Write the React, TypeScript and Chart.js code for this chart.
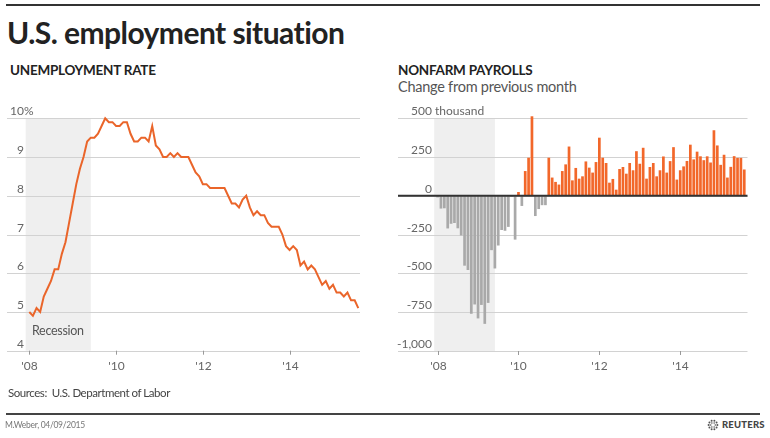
import React, { useEffect, useRef } from "react";
import { Chart, registerables } from "chart.js";

Chart.register(...registerables);

// ---- Data ----
// Month index 0 = Jan 2008, 91 = Aug 2015
const monthLabels: string[] = [];
for (let y = 2008; y <= 2015; y++) {
  for (let m = 1; m <= 12; m++) {
    if (y === 2015 && m > 8) break;
    monthLabels.push(`${y}-${String(m).padStart(2, "0")}`);
  }
}

const xTickLabels = ["'08", "'10", "'12", "'14"];
const xTickMonths = [0, 24, 48, 72];
const recessionMonths = [-1, 17]; // Dec 2007 .. Jun 2009

const unemploymentTicks = [4, 5, 6, 7, 8, 9, 10];
const payrollTicks = [-1000, -750, -500, -250, 0, 250, 500];

const unemployment = [
  5.0, 4.9, 5.1, 5.0, 5.4, 5.6, 5.8, 6.1, 6.1, 6.5, 6.8, 7.3,
  7.8, 8.3, 8.7, 9.0, 9.4, 9.5, 9.5, 9.6, 9.8, 10.0, 9.9, 9.9,
  9.8, 9.8, 9.9, 9.9, 9.6, 9.4, 9.4, 9.5, 9.5, 9.4, 9.8, 9.3,
  9.2, 9.0, 9.0, 9.1, 9.0, 9.1, 9.0, 9.0, 9.0, 8.8, 8.6, 8.5,
  8.3, 8.3, 8.2, 8.2, 8.2, 8.2, 8.2, 8.0, 7.8, 7.8, 7.7, 7.9,
  8.0, 7.7, 7.5, 7.6, 7.5, 7.5, 7.3, 7.2, 7.2, 7.2, 7.0, 6.7,
  6.6, 6.7, 6.6, 6.2, 6.3, 6.1, 6.2, 6.1, 5.9, 5.7, 5.8, 5.6,
  5.7, 5.5, 5.5, 5.4, 5.5, 5.3, 5.3, 5.1,
];

const payrolls = [
  -10, -82, -80, -210, -180, -175, -209, -255, -450, -478, -760, -700,
  -790, -703, -825, -690, -350, -468, -320, -220, -225, -200, -5, -282,
  25, -65, 160, 246, 513, -130, -85, -60, -60, 246, 118, 90,
  73, 160, 203, 318, 100, 180, 111, 126, 222, 182, 150, 218,
  375, 246, 212, 85, 109, 40, 173, 186, 143, 212, 165, 288,
  207, 310, 111, 186, 212, 126, 165, 254, 150, 224, 314, 105,
  165, 190, 225, 330, 235, 285, 255, 230, 255, 215, 423, 325,
  200, 265, 118, 187, 256, 245, 245, 170,
];

// ---- Styles ----
const FONT = "Lato, 'Open Sans', sans-serif";
const ORANGE = "#ea652a";
const BAR_ORANGE = "#f2672a";
const BAR_GRAY = "#a9a9a9";
const GRID = "#d2d2d2";
const SHADE = "#efefef";
const LABEL = "#666";

type AxisOpts = {
  ticks: number[];
  labelRight: number; // canvas x where numeric labels end
  topSuffix: string;
  format: (v: number) => string;
  zeroLine: boolean;
};

function makePlugin(o: AxisOpts) {
  return {
    id: "customAxes",
    beforeDatasetsDraw(chart: any) {
      const { ctx, chartArea: a, scales } = chart;
      const x = scales.x;
      const y = scales.y;
      ctx.save();
      const x0 = Math.max(x.getPixelForValue(recessionMonths[0]), a.left);
      const x1 = x.getPixelForValue(recessionMonths[1]);
      ctx.fillStyle = SHADE;
      ctx.fillRect(x0, a.top, x1 - x0, a.bottom - a.top);
      ctx.strokeStyle = GRID;
      ctx.lineWidth = 1;
      o.ticks.forEach((v) => {
        const py = Math.round(y.getPixelForValue(v)) + 0.5;
        ctx.beginPath();
        ctx.moveTo(a.left, py);
        ctx.lineTo(a.right, py);
        ctx.stroke();
      });
      ctx.restore();
    },
    afterDatasetsDraw(chart: any) {
      const { ctx, chartArea: a, scales } = chart;
      const x = scales.x;
      const y = scales.y;
      ctx.save();
      if (o.zeroLine) {
        const py = y.getPixelForValue(0);
        ctx.strokeStyle = "#333";
        ctx.lineWidth = 2;
        ctx.beginPath();
        ctx.moveTo(a.left, py);
        ctx.lineTo(a.right, py);
        ctx.stroke();
      }
      ctx.font = `12px ${FONT}`;
      ctx.fillStyle = LABEL;
      ctx.textBaseline = "alphabetic";
      const top = o.ticks[o.ticks.length - 1];
      o.ticks.forEach((v) => {
        const py = y.getPixelForValue(v) - 3;
        ctx.textAlign = "right";
        ctx.fillText(o.format(v), o.labelRight, py);
        if (v === top) {
          ctx.textAlign = "left";
          ctx.fillText(o.topSuffix, o.labelRight, py);
        }
      });
      ctx.strokeStyle = "#999";
      ctx.lineWidth = 1;
      ctx.textAlign = "center";
      ctx.textBaseline = "middle";
      xTickMonths.forEach((m, i) => {
        const px = Math.round(x.getPixelForValue(m)) + 0.5;
        ctx.beginPath();
        ctx.moveTo(px, a.bottom);
        ctx.lineTo(px, a.bottom + 4);
        ctx.stroke();
        ctx.fillText(xTickLabels[i], px, a.bottom + 15);
      });
      ctx.restore();
    },
  };
}

function UnemploymentChart() {
  const ref = useRef<HTMLCanvasElement>(null);
  useEffect(() => {
    if (!ref.current) return;
    const chart = new Chart(ref.current, {
      type: "line",
      data: {
        labels: monthLabels,
        datasets: [
          {
            data: unemployment.map((v, i) => ({ x: i, y: v })),
            borderColor: ORANGE,
            borderWidth: 2,
            pointRadius: 0,
            tension: 0,
            fill: false,
            clip: false,
          } as any,
        ],
      },
      options: {
        responsive: false,
        animation: false,
        devicePixelRatio: 1,
        layout: { padding: { left: 7, right: 20, top: 18.3, bottom: 29.3 } },
        plugins: { legend: { display: false }, tooltip: { enabled: false } },
        scales: {
          x: { type: "linear", display: false, min: -6.17, max: 91.47 },
          y: { type: "linear", display: false, min: 4, max: 10 },
        },
      },
      plugins: [
        makePlugin({
          ticks: unemploymentTicks,
          labelRight: 24,
          topSuffix: "%",
          format: (v) => String(v),
          zeroLine: false,
        }),
      ],
    });
    return () => chart.destroy();
  }, []);
  return (
    <canvas
      ref={ref}
      width={380}
      height={280}
      style={{ position: "absolute", left: 0, top: 100, width: 380, height: 280 }}
    />
  );
}

function PayrollChart() {
  const ref = useRef<HTMLCanvasElement>(null);
  useEffect(() => {
    if (!ref.current) return;
    const chart = new Chart(ref.current, {
      type: "bar",
      data: {
        labels: monthLabels,
        datasets: [
          {
            data: payrolls.map((v, i) => ({ x: i, y: v })),
            backgroundColor: payrolls.map((v) => (v >= 0 ? BAR_ORANGE : BAR_GRAY)),
            borderWidth: 0,
            categoryPercentage: 1,
            barPercentage: 0.8,
            clip: false,
          } as any,
        ],
      },
      options: {
        responsive: false,
        animation: false,
        devicePixelRatio: 1,
        layout: { padding: { left: 18, right: 22.5, top: 18.3, bottom: 29 } },
        plugins: { legend: { display: false }, tooltip: { enabled: false } },
        scales: {
          x: { type: "linear", display: false, min: -11.75, max: 91.96, offset: false },
          y: { type: "linear", display: false, min: -1000, max: 500 },
        },
      },
      plugins: [
        makePlugin({
          ticks: payrollTicks,
          labelRight: 52,
          topSuffix: " thousand",
          format: (v) => v.toLocaleString("en-US"),
          zeroLine: true,
        }),
      ],
    });
    return () => chart.destroy();
  }, []);
  return (
    <canvas
      ref={ref}
      width={390}
      height={280}
      style={{ position: "absolute", left: 380, top: 100, width: 390, height: 280 }}
    />
  );
}

function ReutersLogo() {
  const dots = [];
  for (let ring = 0; ring < 2; ring++) {
    const r = ring === 0 ? 4.4 : 2.3;
    const n = ring === 0 ? 10 : 6;
    for (let k = 0; k < n; k++) {
      const ang = (k / n) * Math.PI * 2;
      dots.push(
        <circle key={`${ring}-${k}`} cx={6 + r * Math.cos(ang)} cy={6 + r * Math.sin(ang)} r={ring === 0 ? 1 : 0.8} fill="#555" />
      );
    }
  }
  return (
    <div style={{ position: "absolute", left: 707, top: 418.5, display: "flex", alignItems: "center" }}>
      <svg width={12} height={12}>{dots}</svg>
      <span style={{ fontFamily: FONT, fontWeight: 900, fontSize: 9.5, color: "#444", marginLeft: 3, letterSpacing: 0.2 }}>
        REUTERS
      </span>
    </div>
  );
}

export default function App() {
  const abs = (s: React.CSSProperties): React.CSSProperties => ({
    position: "absolute",
    whiteSpace: "nowrap",
    lineHeight: 1,
    fontFamily: FONT,
    ...s,
  });
  return (
    <div style={{ position: "absolute", left: 0, top: 0, width: 770, height: 438, background: "#fff", overflow: "hidden" }}>
      <div style={{ position: "absolute", left: 6, top: 3.5, width: 754, height: 2.5, background: "#333" }} />
      <div style={abs({ left: 7, top: 16.5, fontSize: 30, fontWeight: 700, color: "#222", letterSpacing: -0.55 })}>
        U.S. employment situation
      </div>
      <div style={abs({ left: 10, top: 64, fontSize: 13.5, fontWeight: 700, color: "#222", letterSpacing: -0.25 })}>UNEMPLOYMENT RATE</div>
      <div style={abs({ left: 398, top: 64, fontSize: 13.5, fontWeight: 700, color: "#222", letterSpacing: -0.25 })}>NONFARM PAYROLLS</div>
      <div style={abs({ left: 398, top: 80, fontSize: 14.5, color: "#555", letterSpacing: -0.25 })}>Change from previous month</div>

      <UnemploymentChart />
      <PayrollChart />

      <div style={abs({ left: 32, top: 325, fontSize: 12.5, color: "#555", letterSpacing: -0.3 })}>Recession</div>

      <div style={abs({ left: 8, top: 387, fontSize: 11.5, color: "#444", letterSpacing: -0.45 })}>Sources:&nbsp; U.S. Department of Labor</div>
      <div style={{ position: "absolute", left: 6, top: 412.5, width: 754, height: 2, background: "#444" }} />
      <div style={abs({ left: 5, top: 421, fontSize: 8.5, color: "#777", letterSpacing: -0.3 })}>M.Weber, 04/09/2015</div>
      <ReutersLogo />
    </div>
  );
}
